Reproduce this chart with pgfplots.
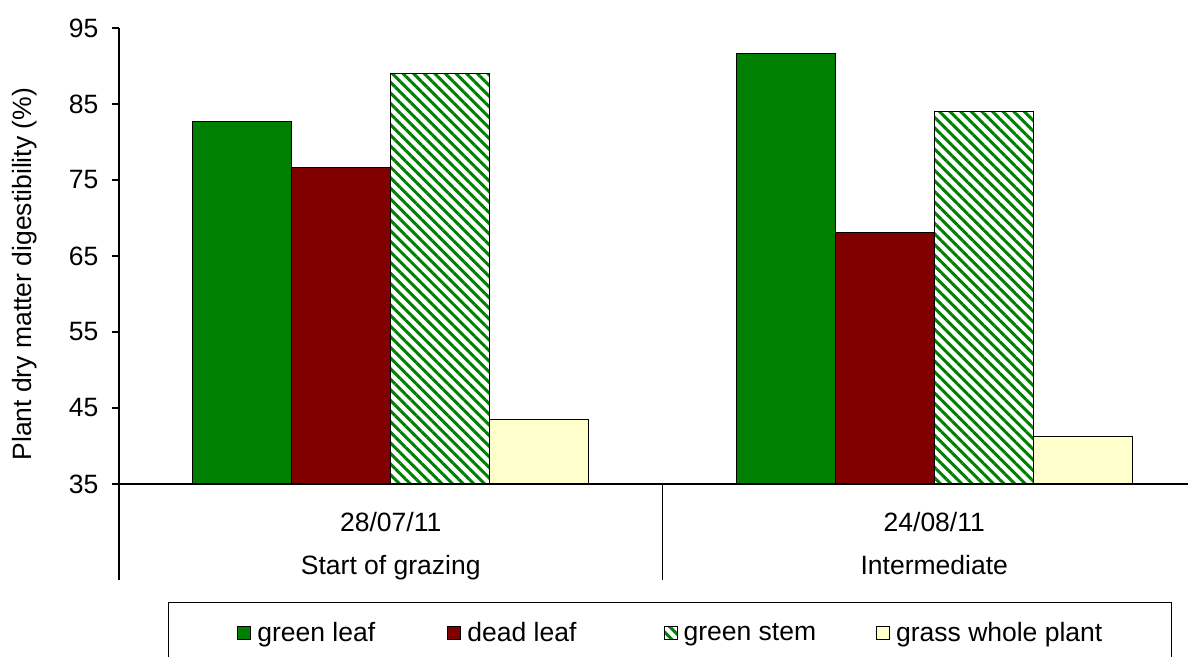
\documentclass[border=0pt]{standalone}
\usepackage{fontspec}
\setmainfont{Liberation Sans}
\usepackage{pgfplots}
\pgfplotsset{compat=1.18}
\usetikzlibrary{patterns.meta}
\definecolor{leafgreen}{HTML}{008000}
\definecolor{deadred}{HTML}{800000}
\definecolor{grassyellow}{HTML}{FFFFCC}
\begin{document}
\fontsize{10.6}{12.7}\selectfont
\begin{tikzpicture}
\begin{axis}[
  name=ax,
  scale only axis,
  width=434.8pt,
  height=182.4pt,
  xmin=-0.5, xmax=1.5,
  ymin=35, ymax=95,
  clip=false,
  ytick={35,45,...,95},
  xtick={0,1},
  xticklabels={{28/07/11\\[4.5pt]Start of grazing},{24/08/11\\[4.5pt]Intermediate}},
  xticklabel style={align=center,yshift=-5pt},
  major x tick style={draw=none},
  axis lines*=left,
  axis line style={black,line width=0.5pt},
  tick style={black,line width=0.5pt},
  tick align=outside,
  major tick length=2.7pt,
  yticklabel style={xshift=-1.8pt},
  /pgf/number format/assume math mode=true,
  ylabel={Plant dry matter digestibility (\%)},
  ylabel style={at={(axis description cs:0,0.46)},anchor=center,yshift=37.6pt},
  ybar=0pt,
  bar width=39.6pt,
  legend columns=4,
  legend image code/.code={\draw[#1,draw=black,line width=0.4pt] (0pt,-2.2pt) rectangle (5.2pt,3pt);},
  legend style={at={(0,0)},anchor=north west,xshift=19.6pt,yshift=-47.2pt,
    draw=black,line width=0.5pt,inner xsep=27.5pt,inner ysep=6pt,
    nodes={inner xsep=0pt},
    /tikz/every odd column/.append style={column sep=2.4pt}},
]
\addplot[fill=leafgreen,draw=black,line width=0.4pt]
  coordinates {(0,82.7) (1,91.7)};
\addplot[fill=deadred,draw=black,line width=0.4pt]
  coordinates {(0,76.7) (1,68.1)};
\addplot[pattern={Lines[angle=-45,distance=3pt,line width=1.2pt]},pattern color=leafgreen,draw=black,line width=0.4pt]
  coordinates {(0,89.0) (1,84.0)};
\addplot[fill=grassyellow,draw=black,line width=0.4pt]
  coordinates {(0,43.5) (1,41.3)};
\legend{\makebox[76pt][l]{green leaf},\makebox[78.5pt][l]{dead leaf},\makebox[77pt][l]{green stem},grass whole plant}
\draw[black,line width=0.5pt] (axis cs:-0.5,35) -- ([yshift=-38.4pt]axis cs:-0.5,35);
\draw[black,line width=0.5pt] (axis cs:0.5,35) -- ([yshift=-38.4pt]axis cs:0.5,35);
\draw[black,line width=0.5pt] (axis cs:1.5,35) -- ([yshift=-38.4pt]axis cs:1.5,35);
\end{axis}
\pgfresetboundingbox
\path[use as bounding box] ([xshift=-47.6pt,yshift=-69.2pt]ax.south west) rectangle ([xshift=427.6pt,yshift=11.2pt]ax.north west);
\end{tikzpicture}
\end{document}
